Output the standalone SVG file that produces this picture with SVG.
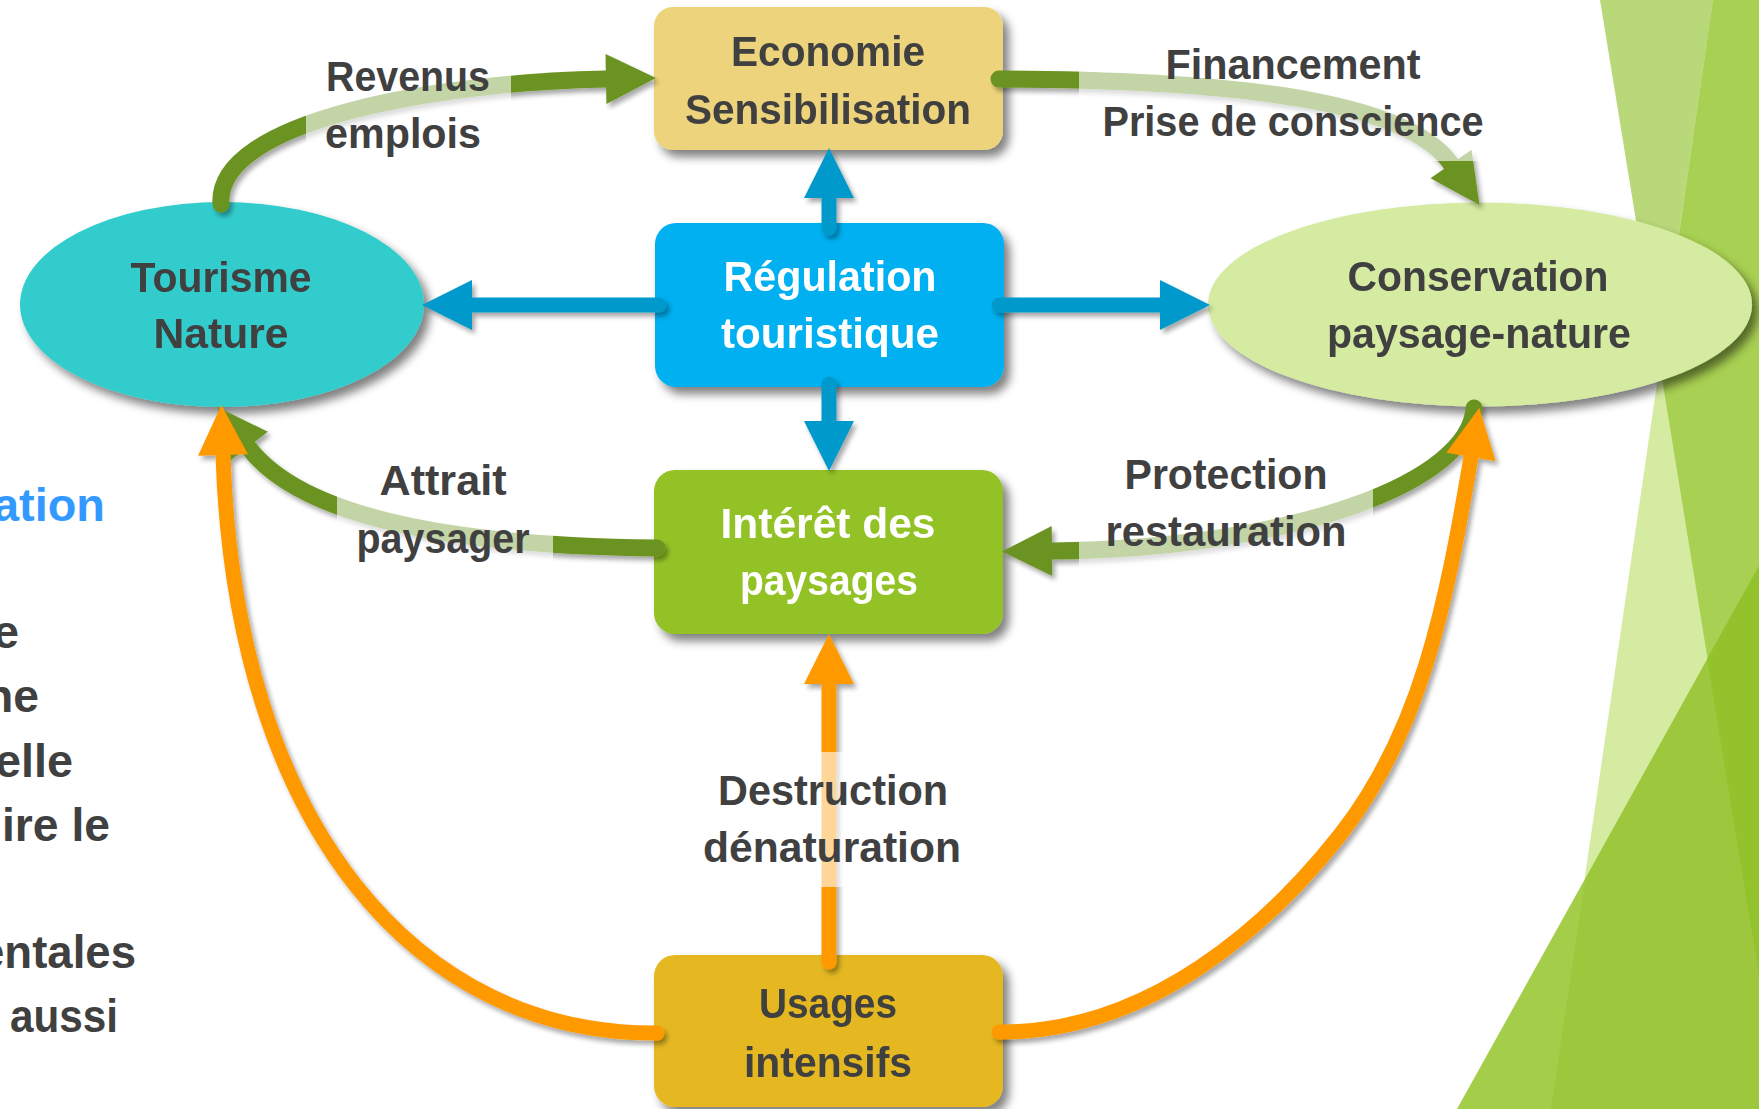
<svg xmlns="http://www.w3.org/2000/svg" width="1759" height="1109" viewBox="0 0 1759 1109">
<defs>
<style>
.t{font-family:"Liberation Sans",Arial,sans-serif;font-weight:bold;font-size:42px;fill:#404040;text-anchor:middle}
.w{fill:#FFFFFF}
.frag{font-family:"Liberation Sans",Arial,sans-serif;font-weight:bold;font-size:47px;fill:#404040;text-anchor:end}
.g{fill:none;stroke:#6B9320;stroke-width:17;stroke-linecap:round}
.b{fill:none;stroke:#0099CC;stroke-width:15;stroke-linecap:round}
.o{fill:none;stroke:#FF9900;stroke-width:15;stroke-linecap:round}
.fade{fill:#FFFFFF;fill-opacity:0.6}
</style>
<filter id="sh" x="-20%" y="-20%" width="150%" height="150%">
<feGaussianBlur in="SourceAlpha" stdDeviation="5"/>
<feOffset dx="6" dy="7" result="o"/>
<feComponentTransfer><feFuncA type="linear" slope="0.5"/></feComponentTransfer>
<feMerge><feMergeNode/><feMergeNode in="SourceGraphic"/></feMerge>
</filter>
<filter id="shl" x="-20%" y="-20%" width="150%" height="150%">
<feGaussianBlur in="SourceAlpha" stdDeviation="2.5"/>
<feOffset dx="3" dy="4" result="o"/>
<feComponentTransfer><feFuncA type="linear" slope="0.35"/></feComponentTransfer>
<feMerge><feMergeNode/><feMergeNode in="SourceGraphic"/></feMerge>
</filter>
<marker id="hg" markerUnits="userSpaceOnUse" markerWidth="50" markerHeight="50" refX="0" refY="24" orient="auto" viewBox="0 0 48 48" overflow="visible"><path d="M0,0 L48,24 L0,48 Z" fill="#6B9320"/></marker>
<marker id="hb" markerUnits="userSpaceOnUse" markerWidth="50" markerHeight="50" refX="0" refY="24" orient="auto" viewBox="0 0 48 48" overflow="visible"><path d="M0,0 L48,24 L0,48 Z" fill="#0099CC"/></marker>
<marker id="ho" markerUnits="userSpaceOnUse" markerWidth="50" markerHeight="50" refX="0" refY="24" orient="auto" viewBox="0 0 48 48" overflow="visible"><path d="M0,0 L48,24 L0,48 Z" fill="#FF9900"/></marker>
</defs>
<rect x="0" y="0" width="1759" height="1109" fill="#FFFFFF"/>
<g id="background">
<polygon points="1600,0 1759,0 1759,975" fill="#B9D87A"/>
<polygon points="1713,0 1759,0 1759,1109 1551,1109" fill="#D5EBA2"/>
<polygon points="1713,0 1759,0 1759,975 1660,366" fill="#A8D052"/>
<polygon points="1457,1109 1759,566 1759,1109" fill="#A4CD4A"/>
<polygon points="1585,880 1759,566 1759,1109 1551,1109" fill="#9DC83D"/>
<polygon points="1707,659 1759,566 1759,975" fill="#94C22D"/>
</g>
<g id="slide-text">
<text class="frag" x="105" y="521" style="fill:#3399FF" textLength="112" lengthAdjust="spacingAndGlyphs">ation</text>
<text class="frag" x="19" y="648" textLength="26" lengthAdjust="spacingAndGlyphs">e</text>
<text class="frag" x="39" y="712" textLength="54" lengthAdjust="spacingAndGlyphs">ne</text>
<text class="frag" x="73" y="777" textLength="78" lengthAdjust="spacingAndGlyphs">elle</text>
<text class="frag" x="110" y="841" textLength="108" lengthAdjust="spacingAndGlyphs">ire le</text>
<text class="frag" x="136" y="968" textLength="157" lengthAdjust="spacingAndGlyphs">entales</text>
<text class="frag" x="118" y="1032" textLength="108" lengthAdjust="spacingAndGlyphs">aussi</text>
</g>
<g id="node-economie" filter="url(#sh)">
<rect x="654" y="7" width="349" height="143" rx="19" fill="#EDD47B"/>
<text class="t" x="828" y="66" textLength="194" lengthAdjust="spacingAndGlyphs">Economie</text>
<text class="t" x="828" y="124" textLength="286" lengthAdjust="spacingAndGlyphs">Sensibilisation</text>
</g>
<g id="node-regulation" filter="url(#sh)">
<rect x="655" y="223" width="349" height="164" rx="21" fill="#00B0F0"/>
<text class="t w" x="830" y="291" textLength="213" lengthAdjust="spacingAndGlyphs">Régulation</text>
<text class="t w" x="830" y="348" textLength="218" lengthAdjust="spacingAndGlyphs">touristique</text>
</g>
<g id="node-interet" filter="url(#sh)">
<rect x="654" y="470" width="349" height="164" rx="21" fill="#93C225"/>
<text class="t w" x="828" y="538" textLength="215" lengthAdjust="spacingAndGlyphs">Intérêt des</text>
<text class="t w" x="829" y="595" textLength="178" lengthAdjust="spacingAndGlyphs">paysages</text>
</g>
<g id="node-usages" filter="url(#sh)">
<rect x="654" y="955" width="349" height="152" rx="21" fill="#E5B820"/>
<text class="t" x="828" y="1018" textLength="138" lengthAdjust="spacingAndGlyphs">Usages</text>
<text class="t" x="828" y="1077" textLength="168" lengthAdjust="spacingAndGlyphs">intensifs</text>
</g>
<g id="node-tourisme" filter="url(#sh)">
<ellipse cx="222" cy="304.5" rx="202" ry="102.5" fill="#33CCCC"/>
<text class="t" x="221" y="292" textLength="181" lengthAdjust="spacingAndGlyphs">Tourisme</text>
<text class="t" x="221" y="348" textLength="135" lengthAdjust="spacingAndGlyphs">Nature</text>
</g>
<g id="node-conservation" filter="url(#sh)">
<ellipse cx="1480" cy="304.5" rx="272" ry="102" fill="#D5EBA1"/>
<text class="t" x="1478" y="291" textLength="261" lengthAdjust="spacingAndGlyphs">Conservation</text>
<text class="t" x="1479" y="348" textLength="304" lengthAdjust="spacingAndGlyphs">paysage-nature</text>
</g>
<g id="connectors" filter="url(#shl)">
<path class="g" d="M221,204 C215,120 440,82 606,79" marker-end="url(#hg)"/>
<path class="g" d="M999,79 C1260,80 1410,105 1451,164" marker-end="url(#hg)"/>
<path class="g" d="M657,548 C470,546 305,522 248,447" marker-end="url(#hg)"/>
<path class="g" d="M1474,408 C1470,480 1300,548 1052,551" marker-end="url(#hg)"/>
<path class="b" d="M829,228 L829,198" marker-end="url(#hb)"/>
<path class="b" d="M829,384 L829,421" marker-end="url(#hb)"/>
<path class="b" d="M659,305 L472,305" marker-end="url(#hb)"/>
<path class="b" d="M999,305 L1160,305" marker-end="url(#hb)"/>
<path class="o" d="M829,962 L829,684" marker-end="url(#ho)"/>
<path class="o" d="M657,1033 C420,1035 235,830 223,455" marker-end="url(#ho)"/>
<path class="o" d="M999,1032 C1150,1033 1270,924 1340,835 C1421,732 1446,605 1471,457" marker-end="url(#ho)"/>
</g>
<g id="labels">
<rect class="fade" x="306" y="45" width="205" height="115"/>
<rect class="fade" x="1079" y="35" width="411" height="126"/>
<rect class="fade" x="337" y="455" width="216" height="115"/>
<rect class="fade" x="1079" y="450" width="294" height="125"/>
<rect class="fade" x="700" y="752" width="265" height="135"/>
<text class="t" x="326" y="91" style="text-anchor:start" textLength="164" lengthAdjust="spacingAndGlyphs">Revenus</text>
<text class="t" x="325" y="148" style="text-anchor:start" textLength="156" lengthAdjust="spacingAndGlyphs">emplois</text>
<text class="t" x="1293" y="79" textLength="255" lengthAdjust="spacingAndGlyphs">Financement</text>
<text class="t" x="1293" y="136" textLength="381" lengthAdjust="spacingAndGlyphs">Prise de conscience</text>
<text class="t" x="443" y="495" textLength="127" lengthAdjust="spacingAndGlyphs">Attrait</text>
<text class="t" x="443" y="553" textLength="173" lengthAdjust="spacingAndGlyphs">paysager</text>
<text class="t" x="1226" y="489" textLength="203" lengthAdjust="spacingAndGlyphs">Protection</text>
<text class="t" x="1226" y="546" textLength="241" lengthAdjust="spacingAndGlyphs">restauration</text>
<text class="t" x="833" y="805" textLength="230" lengthAdjust="spacingAndGlyphs">Destruction</text>
<text class="t" x="832" y="862" textLength="258" lengthAdjust="spacingAndGlyphs">dénaturation</text>
</g>
</svg>
